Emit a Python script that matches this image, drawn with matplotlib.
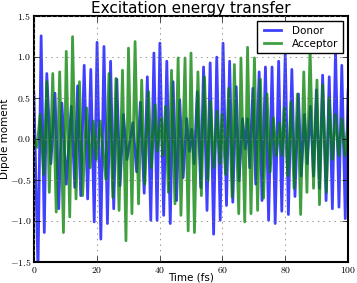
import matplotlib
matplotlib.use("Agg")
import matplotlib.pyplot as plt
from matplotlib.ticker import FormatStrFormatter

plt.style.use("classic")
plt.rcParams["mathtext.fontset"] = "cm"

# donor dipole, turning points (time in fs, value)
donor_t = [0.0, 1.3, 2.3, 3.3, 4.1, 5.4, 6.7, 7.9, 8.9, 10.3, 11.9, 13.0, 13.9, 14.9,
           16.0, 17.1, 18.1, 19.2, 20.1, 21.3, 22.3, 23.4, 24.4, 25.4, 26.4, 27.4,
           28.5, 29.6, 31.5, 32.7, 33.9, 35.1, 36.1, 37.2, 38.2, 39.2, 40.1, 41.3,
           42.3, 43.4, 44.3, 45.4, 46.4, 47.5, 48.6, 49.5, 50.2, 51.0, 52.0, 53.1,
           54.0, 55.1, 56.1, 57.2, 58.2, 59.3, 60.2, 61.3, 62.3, 63.3, 64.4, 65.3,
           66.4, 67.3, 68.0, 68.7, 69.7, 70.6, 71.7, 72.6, 73.7, 74.7, 75.8, 76.8,
           77.9, 78.9, 80.0, 81.0, 82.1, 83.1, 84.2, 85.1, 86.1, 87.0, 88.0, 89.0,
           89.9, 90.9, 91.9, 93.0, 94.0, 95.0, 96.0, 97.1, 98.0, 99.1, 100.0]
donor_v = [0.55, -1.6, 1.26, -1.14, 0.80, -0.30, 0.56, -0.85, 0.44, -0.55, 0.40, -0.59,
           0.65, -0.69, 0.90, -0.73, 0.85, -1.01, 1.18, -1.22, 1.13, -1.03, 0.95, -0.85,
           0.73, -0.57, 0.30, -0.25, 0.20, -0.40, 0.45, -0.66, 0.76, -0.99, 1.05, -0.99,
           1.17, -0.93, 0.95, -1.03, 0.70, -0.75, 0.48, -0.47, 0.25, -0.15, 0.12, -0.30,
           0.58, -0.59, 0.88, -0.87, 0.93, -1.16, 1.00, -0.99, 1.17, -0.81, 0.95, -0.77,
           0.64, -0.51, 0.25, -0.12, 0.25, -0.35, 0.62, -0.55, 0.82, -0.75, 0.88, -0.99,
           0.88, -1.03, 0.95, -0.88, 1.05, -0.92, 0.85, -0.70, 0.55, -0.45, 0.30, -0.30,
           0.40, -0.45, 0.60, -0.60, 0.78, -0.75, 0.76, -0.85, 1.08, -0.83, 0.90, -0.97,
           0.60]

# acceptor dipole
acceptor_t = [0.0, 1.0, 2.0, 3.1, 4.1, 4.9, 6.0, 7.1, 8.2, 9.4, 10.3, 11.4, 12.3, 13.4,
              14.5, 15.5, 16.8, 17.9, 18.9, 19.9, 21.1, 22.9, 23.9, 25.1, 26.1, 27.1,
              28.2, 29.3, 30.1, 31.2, 32.2, 33.3, 34.3, 35.3, 36.5, 37.4, 38.6, 39.3,
              40.4, 41.0, 41.9, 42.8, 43.8, 44.9, 45.9, 46.8, 48.1, 49.1, 50.0, 51.1,
              52.2, 53.3, 54.3, 55.4, 56.2, 57.3, 58.3, 59.2, 59.9, 61.0, 62.0, 63.1,
              63.8, 65.2, 65.9, 67.1, 68.0, 69.1, 70.2, 71.2, 72.1, 73.1, 74.2, 75.2,
              76.2, 77.2, 78.2, 79.0, 79.7, 80.8, 81.8, 82.8, 83.9, 84.9, 85.9, 86.9,
              87.9, 89.0, 90.1, 90.9, 91.9, 93.1, 94.0, 95.0, 96.0, 97.0, 98.0, 99.0,
              100.0]
acceptor_v = [0.0, -0.10, 0.30, -0.43, 0.70, -0.65, 0.80, -0.89, 0.82, -1.14, 1.07, -0.95,
              1.25, -0.73, 0.70, -0.69, 0.38, -0.35, 0.22, -0.25, 0.22, -0.49, 0.80, -0.71,
              0.74, -0.87, 0.84, -1.24, 1.11, -0.91, 1.19, -0.79, 0.72, -0.55, 0.58, -0.35,
              0.42, -0.15, 0.25, -0.20, 0.40, -0.65, 0.84, -0.79, 0.99, -0.93, 0.99, -1.12,
              1.05, -1.14, 0.82, -0.69, 0.76, -0.51, 0.46, -0.35, 0.34, -0.30, 0.30, -0.43,
              0.62, -0.71, 0.91, -0.91, 0.99, -1.01, 1.12, -0.91, 0.99, -0.87, 0.73, -0.72,
              0.55, -0.40, 0.26, -0.20, 0.20, -0.20, 0.38, -0.45, 0.45, -0.60, 0.55, -0.92,
              0.82, -0.65, 1.11, -0.60, 0.72, -0.80, 0.66, -0.65, 0.50, -0.25, 0.30, -0.20,
              0.25, -0.20, 0.20]

fig = plt.figure(figsize=(3.57, 2.83), dpi=100, facecolor="white")
ax = fig.add_axes([0.095, 0.074, 0.880, 0.869])

ax.plot(donor_t, donor_v, color="b", lw=2.0, alpha=0.75, label="Donor")
ax.plot(acceptor_t, acceptor_v, color="g", lw=2.0, alpha=0.75, label="Acceptor")

ax.set_xlim(0, 100)
ax.set_ylim(-1.5, 1.5)
ax.set_xticks([0, 20, 40, 60, 80, 100])
ax.set_yticks([-1.5, -1.0, -0.5, 0.0, 0.5, 1.0, 1.5])
ax.xaxis.set_major_formatter(FormatStrFormatter(r"$%d$"))
ax.yaxis.set_major_formatter(FormatStrFormatter(r"$%.1f$"))
ax.tick_params(labelsize=7, length=4, pad=2)
ax.grid(True, linestyle=":", color="gray", lw=0.6)
for s in ax.spines.values():
    s.set_linewidth(1.5)

ax.set_title("Excitation energy transfer", fontsize=11, pad=2)
ax.set_xlabel("Time (fs)", fontsize=7.5, labelpad=-2)
ax.set_ylabel("Dipole moment", fontsize=7.5, labelpad=0)
leg = ax.legend(loc="upper right", fontsize=7.5, fancybox=False, handlelength=2.2,
                borderaxespad=0.5, labelspacing=0.3)
leg.get_frame().set_edgecolor("black")

fig.savefig("out.png", dpi=100)
